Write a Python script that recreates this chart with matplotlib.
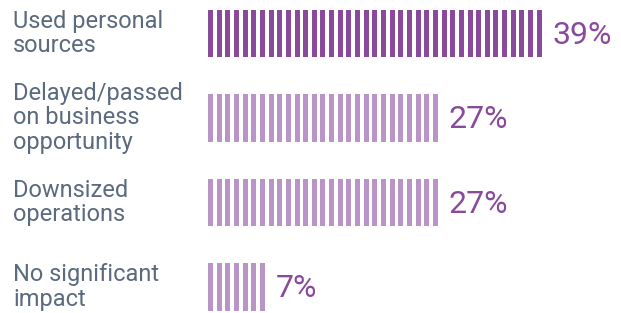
import matplotlib
matplotlib.use("Agg")
import matplotlib.pyplot as plt
import matplotlib.transforms as mtransforms

categories = ["Used personal\nsources", "Delayed/passed\non business\nopportunity",
              "Downsized\noperations", "No significant\nimpact"]
values = [39, 27, 27, 7]
labels = ["39%", "27%", "27%", "7%"]
colors = ["#8a4a9b", "#b995c7", "#b995c7", "#b995c7"]

plt.rcParams['font.family'] = ['Roboto', 'DejaVu Sans']

W, H = 621, 313
fig = plt.figure(figsize=(W / 100, H / 100), dpi=100)
p = 8.65
left = 208
ax = fig.add_axes([left / W, 0, 1 - left / W, 1])
xmax = (W - left) / p
ax.set_xlim(0, xmax)
row = 84.5
top = 33.5
ax.set_ylim((H - top) / row, -top / row)
ax.axis('off')

for r, (v, c) in enumerate(zip(values, colors)):
    xs = list(range(v))
    ax.bar(xs, [0.568] * v, width=0.58, bottom=r - 0.284, align='edge', color=c, linewidth=0)
    ax.text(v + 0.8, r + 0.02, labels[r], color="#8a4a9b", fontsize=23, va='center', ha='left')

trans = mtransforms.blended_transform_factory(fig.transFigure, ax.transData)
for r, cat in enumerate(categories):
    ax.text(13 / W, r, cat, transform=trans, color="#5b6a7e", fontsize=17,
            va='center', ha='left', linespacing=1.06)

fig.savefig("out.png", dpi=100)
